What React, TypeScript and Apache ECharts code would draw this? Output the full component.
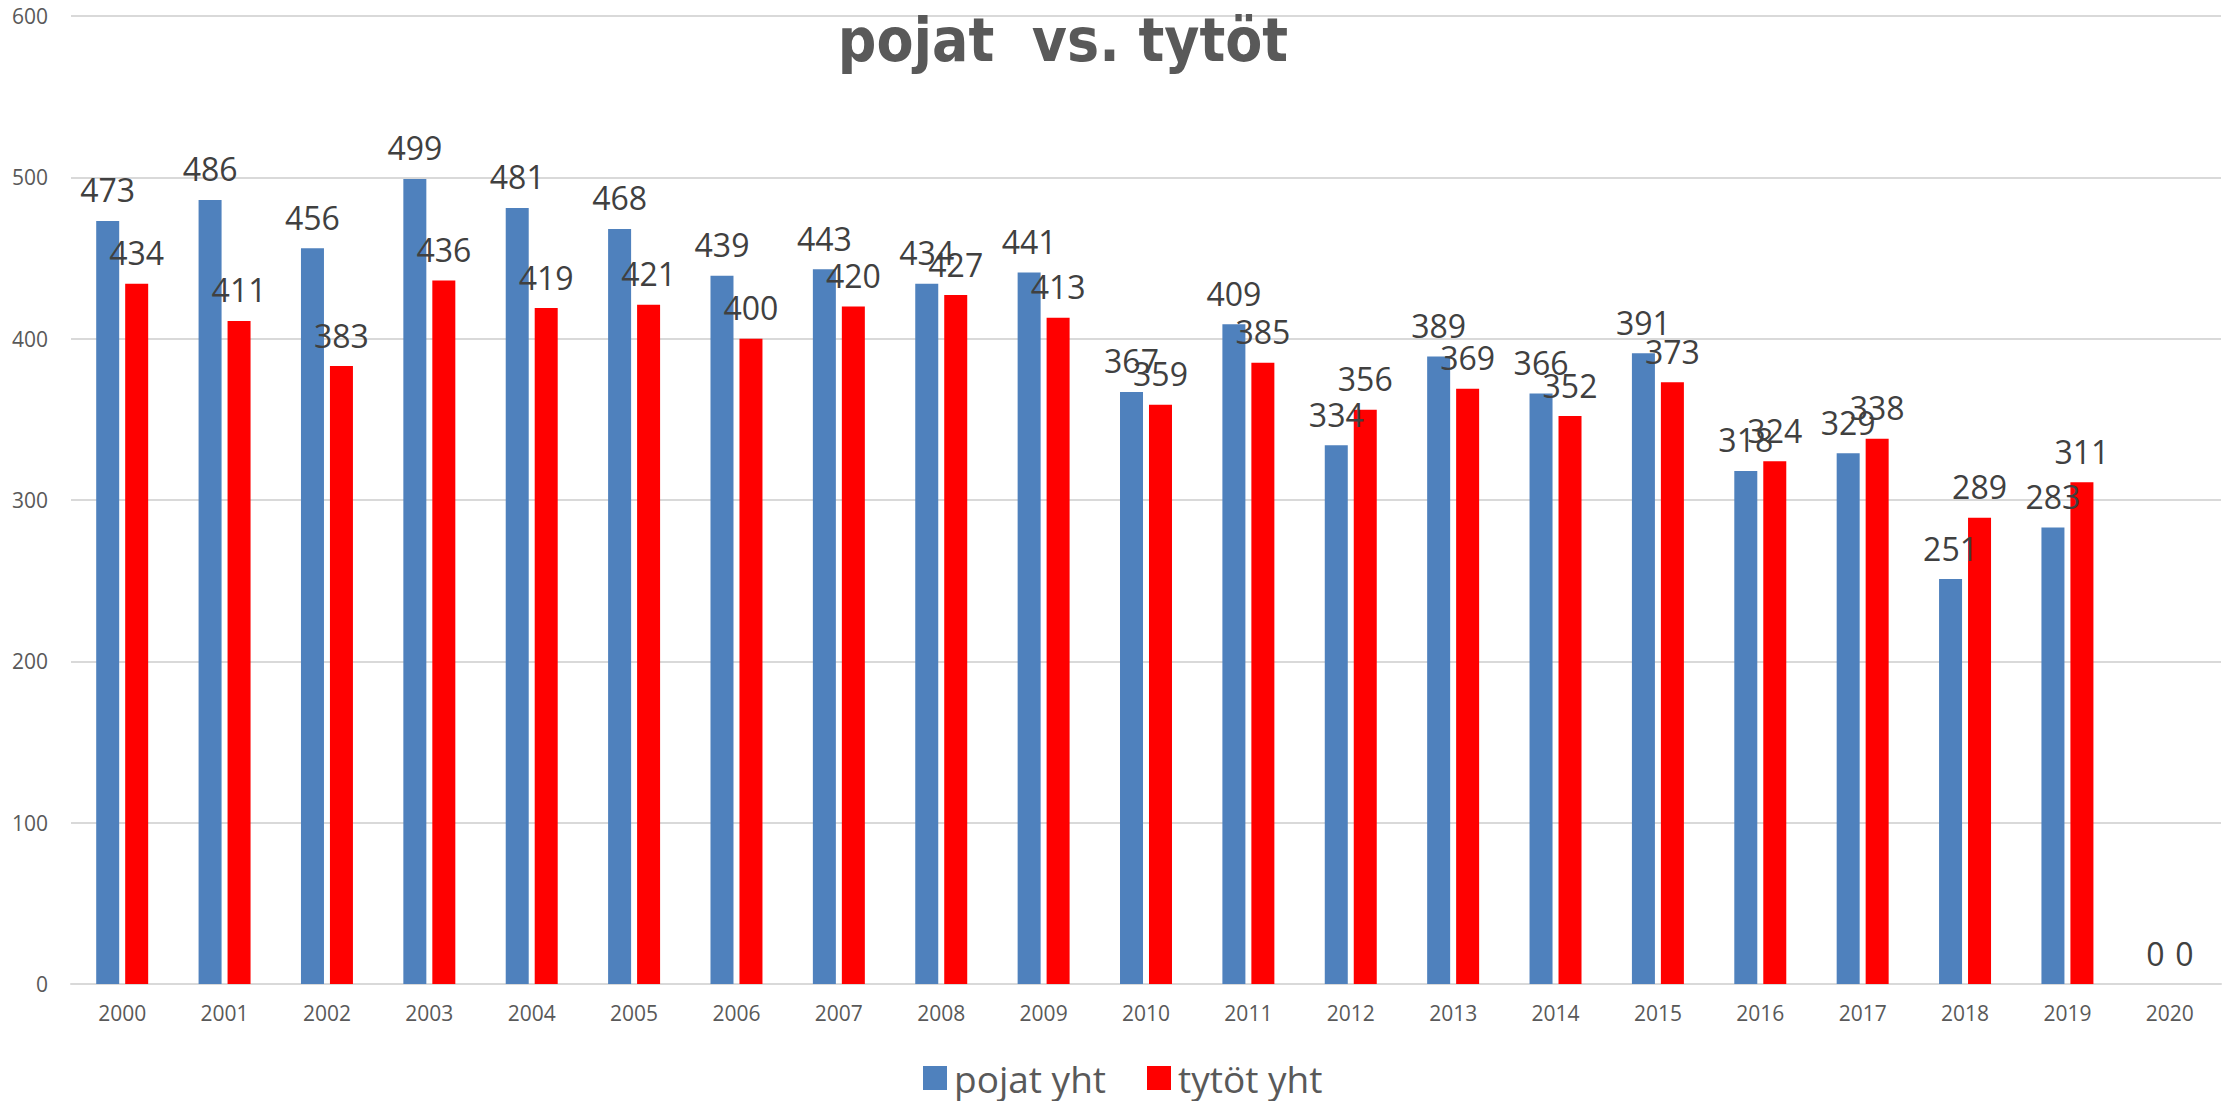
import React, { useEffect, useRef } from "react";
import * as echarts from "echarts";

const years = ["2000","2001","2002","2003","2004","2005","2006","2007","2008","2009","2010","2011","2012","2013","2014","2015","2016","2017","2018","2019","2020"];
const pojat = [473, 486, 456, 499, 481, 468, 439, 443, 434, 441, 367, 409, 334, 389, 366, 391, 318, 329, 251, 283, 0];
const tytot = [434, 411, 383, 436, 419, 421, 400, 420, 427, 413, 359, 385, 356, 369, 352, 373, 324, 338, 289, 311, 0];
const seriesNames = ["pojat yht", "tytöt yht"];
const titleText = "pojat  vs. tytöt";

export default function App() {
  const ref = useRef<HTMLDivElement>(null);
  useEffect(() => {
    if (!ref.current) return;
    const chart = echarts.init(ref.current, null, { renderer: "svg" });
    const font = "'Open Sans', sans-serif";
    const label = {
      show: true,
      position: "top",
      distance: 15,
      fontSize: 32,
      color: "#404040",
      fontFamily: font,
    };
    chart.setOption({
      animation: false,
      backgroundColor: "#ffffff",
      title: {
        text: titleText,
        left: 1058,
        top: 5,
        textAlign: "center",
        textStyle: {
          fontSize: 60,
          fontWeight: "bold",
          color: "#595959",
          fontFamily: "'Liberation Sans Narrow', 'DejaVu Sans Condensed', sans-serif",
        },
      },
      legend: {
        left: 923,
        top: 1059,
        padding: 0,
        itemWidth: 24,
        itemHeight: 24,
        itemGap: 41,
        icon: "rect",
        textStyle: { fontSize: 37, lineHeight: 38, color: "#595959", fontFamily: font, padding: [0, 0, 0, 2] },
        data: seriesNames,
      },
      grid: { left: 71, right: 17, top: 16, bottom: 117, containLabel: false },
      xAxis: {
        type: "category",
        data: years,
        axisLine: { show: true, lineStyle: { color: "#D9D9D9", width: 2 } },
        axisTick: { show: false },
        axisLabel: { fontSize: 21, color: "#595959", fontFamily: font, margin: 18 },
      },
      yAxis: {
        type: "value",
        min: 0,
        max: 600,
        interval: 100,
        axisLine: { show: false },
        axisTick: { show: false },
        splitLine: { lineStyle: { color: "#D9D9D9", width: 2 } },
        axisLabel: { fontSize: 21, color: "#595959", fontFamily: font, margin: 23 },
      },
      series: [
        {
          name: seriesNames[0],
          type: "bar",
          data: pojat,
          barWidth: 23,
          barGap: "26%",
          itemStyle: { color: "#4F81BD" },
          label,
        },
        {
          name: seriesNames[1],
          type: "bar",
          data: tytot,
          barWidth: 23,
          barGap: "26%",
          itemStyle: { color: "#FF0000" },
          label,
        },
      ],
    });
    return () => chart.dispose();
  }, []);
  return (
    <div
      ref={ref}
      style={{ position: "fixed", left: 0, top: 0, width: 2238, height: 1101 }}
    />
  );
}
